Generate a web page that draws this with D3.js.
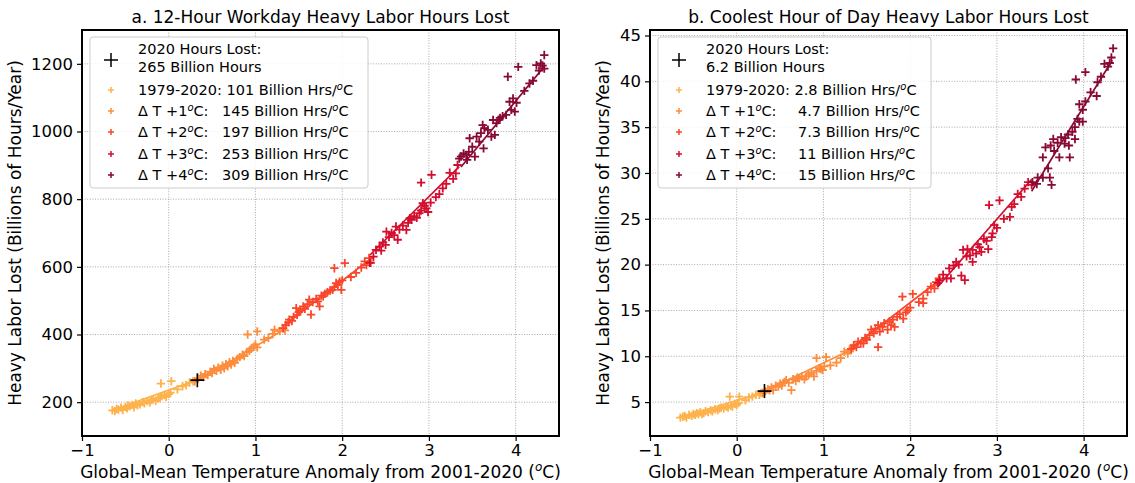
<!DOCTYPE html>
<html><head><meta charset="utf-8">
<script src="https://cdn.jsdelivr.net/npm/d3@7"></script>
<style>
body{margin:0;background:#fff;}
text{font-family:"DejaVu Sans",sans-serif;fill:#000;}
</style></head>
<body><svg id="c" width="1135" height="483"></svg>
<script>
// ---------- DATA ----------
const groupNames = ["1979-2020","+1","+2","+3","+4"];
const groupColors = ["#feb24c","#fd8d3c","#f9472b","#d20f2f","#880a34"];
const xTicks = [-1,0,1,2,3,4];
const yTicksA = [200,400,600,800,1000,1200];
const yTicksB = [5,10,15,20,25,30,35,40,45];

// Panel a (Billion hours)
const aHist = [[-0.65,176],[-0.62,174],[-0.60,180],[-0.58,178],[-0.55,184],[-0.53,177],[-0.50,186],[-0.48,182],[-0.47,190],[-0.45,188],[-0.42,192],[-0.40,185],[-0.38,196],[-0.36,191],[-0.33,194],[-0.30,200],[-0.28,197],[-0.25,203],[-0.22,199],[-0.20,206],[-0.18,209],[-0.15,204],[-0.12,211],[-0.10,214],[-0.08,218],[-0.05,221],[-0.03,216],[0.00,224],[0.02,228],[-0.09,255],[0.03,262],[0.10,238],[0.16,247],[0.20,250],[0.24,258],[0.28,262]];
const aP1 = [[0.30,262],[0.34,270],[0.37,278],[0.40,274],[0.42,283],[0.45,280],[0.48,290],[0.50,286],[0.52,298],[0.55,293],[0.57,302],[0.60,296],[0.62,308],[0.64,300],[0.66,312],[0.68,306],[0.70,318],[0.72,311],[0.74,322],[0.76,316],[0.79,328],[0.82,333],[0.85,340],[0.87,336],[0.90,348],[0.93,352],[0.95,358],[0.98,364],[1.00,370],[1.02,362],[0.91,400],[1.02,409],[1.10,385],[1.15,390],[1.20,402],[1.22,414],[1.28,410],[1.31,419],[1.34,412]];
const aP2 = [[1.32,418],[1.35,428],[1.38,436],[1.39,444],[1.42,440],[1.44,452],[1.47,478],[1.48,458],[1.50,466],[1.52,472],[1.55,483],[1.57,476],[1.60,490],[1.62,503],[1.64,459],[1.66,496],[1.70,505],[1.72,498],[1.74,483],[1.76,515],[1.78,513],[1.80,520],[1.83,525],[1.86,530],[1.89,532],[1.91,540],[1.93,552],[1.95,547],[1.97,556],[1.99,532],[2.00,560],[1.91,596],[2.03,611],[2.10,570],[2.16,582],[2.22,598],[2.26,616],[2.28,605],[2.31,626],[2.33,612]];
const aP3 = [[2.32,612],[2.36,630],[2.39,650],[2.43,660],[2.45,648],[2.47,672],[2.50,665],[2.51,704],[2.54,688],[2.57,700],[2.60,694],[2.62,719],[2.64,680],[2.66,710],[2.70,722],[2.74,709],[2.76,730],[2.78,744],[2.80,739],[2.83,750],[2.86,745],[2.89,759],[2.91,766],[2.93,788],[2.95,780],[2.97,773],[2.99,762],[3.02,790],[3.08,806],[3.12,815],[3.16,832],[2.91,849],[3.03,872],[3.20,845],[3.24,878],[3.28,860],[3.31,876],[3.33,901]];
const aP4 = [[3.35,920],[3.37,926],[3.40,935],[3.43,931],[3.44,916],[3.46,940],[3.50,955],[3.53,926],[3.55,985],[3.47,980],[3.58,970],[3.60,995],[3.62,1019],[3.63,950],[3.64,1010],[3.68,1005],[3.72,985],[3.74,1034],[3.76,990],[3.78,1025],[3.80,1034],[3.82,1040],[3.85,1045],[3.89,1049],[3.91,1162],[3.93,1088],[3.95,1064],[3.97,1098],[3.99,1059],[4.01,1085],[4.03,1191],[4.10,1120],[4.16,1142],[4.20,1150],[4.24,1196],[4.27,1180],[4.29,1201],[4.31,1195],[4.33,1226],[4.33,1186]];
// fit lines: [xStart, yStart, xEnd, yEnd] per group
const aFits = [[-0.65,176,0.33,266],[0.30,258,1.35,418],[1.32,425,2.35,628],[2.32,635,3.35,896],[3.37,895,4.33,1192]];
const a2020 = [0.33,265];
const aRates = ["101","145","197","253","309"];

// Panel b
const bHist = [[-0.65,3.3],[-0.62,3.4],[-0.60,3.5],[-0.58,3.3],[-0.55,3.6],[-0.52,3.5],[-0.50,3.7],[-0.48,3.6],[-0.46,3.8],[-0.44,3.7],[-0.42,3.9],[-0.40,3.7],[-0.38,3.8],[-0.36,4.0],[-0.33,3.9],[-0.30,4.1],[-0.28,4.0],[-0.25,4.2],[-0.22,4.1],[-0.20,4.3],[-0.18,4.4],[-0.15,4.3],[-0.12,4.5],[-0.10,4.4],[-0.07,4.6],[-0.05,4.5],[-0.02,4.8],[0.00,4.7],[0.02,4.9],[-0.08,5.6],[0.03,5.6],[0.10,5.2],[0.14,5.5],[0.18,5.6],[0.22,5.8],[0.26,5.8],[0.28,6.0]];
const bP1 = [[0.30,6.0],[0.33,6.2],[0.36,6.4],[0.38,6.3],[0.40,6.6],[0.42,6.3],[0.45,6.8],[0.48,6.7],[0.50,7.0],[0.52,6.8],[0.55,7.2],[0.57,7.4],[0.60,7.1],[0.63,6.3],[0.65,7.5],[0.68,7.3],[0.70,7.7],[0.72,7.6],[0.75,7.8],[0.78,7.5],[0.80,7.8],[0.83,8.0],[0.86,8.2],[0.89,7.8],[0.92,8.4],[0.95,8.7],[0.97,8.6],[0.99,8.5],[1.01,8.9],[0.92,9.8],[1.03,9.9],[1.08,9.0],[1.15,9.3],[1.20,9.8],[1.24,10.5],[1.28,10.3],[1.30,10.7],[1.34,10.9]];
const bP2 = [[1.32,10.8],[1.35,11.2],[1.38,11.0],[1.40,11.6],[1.43,11.4],[1.46,11.4],[1.48,12.0],[1.50,11.8],[1.53,12.3],[1.55,12.9],[1.58,12.5],[1.60,13.0],[1.63,13.4],[1.63,11.0],[1.65,12.7],[1.68,13.2],[1.70,13.6],[1.74,12.9],[1.76,13.8],[1.78,13.4],[1.80,14.0],[1.82,13.2],[1.85,14.3],[1.88,14.6],[1.92,14.1],[1.95,14.8],[1.97,15.0],[2.00,15.3],[1.91,16.5],[2.03,16.8],[2.10,15.9],[2.15,16.3],[2.15,15.8],[2.20,17.0],[2.24,17.6],[2.28,17.4],[2.30,18.1],[2.33,18.5]];
const bP3 = [[2.32,18.0],[2.34,18.3],[2.38,18.9],[2.42,18.5],[2.45,19.6],[2.47,18.5],[2.50,19.9],[2.53,20.3],[2.56,20.0],[2.59,18.8],[2.61,21.6],[2.63,18.3],[2.65,20.9],[2.66,21.7],[2.69,21.0],[2.72,20.3],[2.72,21.6],[2.76,21.2],[2.78,22.2],[2.80,21.9],[2.82,21.4],[2.85,22.8],[2.88,22.6],[2.90,21.7],[2.94,23.0],[2.95,23.4],[2.97,24.3],[3.00,24.0],[2.91,26.5],[3.03,27.0],[3.08,25.0],[3.15,25.2],[3.17,26.3],[3.20,26.6],[3.24,27.7],[3.28,27.4],[3.32,28.3],[3.36,29.0],[3.40,28.7]];
const bP4 = [[3.41,29.0],[3.46,28.8],[3.47,29.5],[3.53,29.5],[3.53,31.7],[3.56,32.8],[3.59,30.5],[3.61,29.5],[3.62,33.0],[3.63,28.7],[3.65,33.7],[3.66,32.4],[3.70,33.3],[3.72,31.7],[3.74,33.9],[3.78,33.2],[3.79,33.8],[3.82,34.2],[3.83,33.0],[3.84,31.7],[3.87,34.5],[3.90,33.7],[3.90,35.0],[3.93,35.9],[3.95,35.6],[3.95,37.5],[3.99,35.6],[3.99,36.9],[4.02,37.8],[3.91,40.2],[4.02,41.0],[4.08,38.8],[4.15,38.4],[4.16,39.9],[4.20,40.5],[4.24,41.9],[4.28,41.6],[4.30,42.0],[4.32,42.6],[4.34,43.6]];
const bFits = [[-0.65,3.3,0.32,6.1],[0.30,6.1,1.36,10.9],[1.32,10.9,2.35,18.4],[2.32,17.6,3.40,29.3],[3.40,28.0,4.33,42.3]];
const b2020 = [0.32,6.2];
const bRates = ["2.8","4.7","7.3","11","15"];

// ---------- DRAW ----------
const svg = d3.select("#c");

function sup(t,size){
  t.append("tspan").attr("baseline-shift","super").style("font-size",size).style("font-style","italic").text("o");
}

function drawPanel(o){
  const g = svg.append("g");
  const x = d3.scaleLinear().domain([-1,4.5]).range([o.left,o.right]);
  const y = d3.scaleLinear().domain(o.ydom).range([o.bottom,o.top]);
  // grid
  g.append("g").selectAll("line").data(xTicks.slice(1)).join("line")
    .attr("x1",d=>x(d)).attr("x2",d=>x(d)).attr("y1",o.top).attr("y2",o.bottom)
    .attr("stroke","#a8a8a8").attr("stroke-width",1).attr("stroke-dasharray","1,1.6");
  g.append("g").selectAll("line").data(o.yticks).join("line")
    .attr("x1",o.left).attr("x2",o.right).attr("y1",d=>y(d)).attr("y2",d=>y(d))
    .attr("stroke","#a8a8a8").attr("stroke-width",1).attr("stroke-dasharray","1,1.6");
  // axes
  const xa = g.append("g").attr("transform",`translate(0,${o.bottom})`)
    .call(d3.axisBottom(x).tickValues(xTicks).tickSize(5).tickPadding(3).tickFormat(d=>d<0?"\u2212"+Math.abs(d):d));
  const ya = g.append("g").attr("transform",`translate(${o.left},0)`)
    .call(d3.axisLeft(y).tickValues(o.yticks).tickSize(5).tickPadding(4).tickFormat(d3.format("d")));
  [xa,ya].forEach(a=>{a.select(".domain").remove();a.selectAll("text").style("font-size","16.5px").style("font-family","DejaVu Sans");a.selectAll("line").attr("stroke","#000").attr("stroke-width",1.2);});
  // fits
  o.fits.forEach((f,i)=>{
    g.append("line").attr("x1",x(f[0])).attr("y1",y(f[1])).attr("x2",x(f[2])).attr("y2",y(f[3]))
      .attr("stroke",groupColors[i]).attr("stroke-width",1.7);
  });
  // points
  const plus = (sel,s)=>sel.attr("d",`M${-s},0H${s}M0,${-s}V${s}`);
  o.groups.forEach((pts,i)=>{
    g.append("g").selectAll("path").data(pts).join("path")
      .attr("transform",d=>`translate(${x(d[0])},${y(d[1])})`)
      .call(plus,4.2).attr("stroke",groupColors[i]).attr("stroke-width",1.8).attr("fill","none");
  });
  g.append("path").attr("transform",`translate(${x(o.p2020[0])},${y(o.p2020[1])})`)
    .call(plus,7).attr("stroke","#000").attr("stroke-width",1.6);
  // frame
  g.append("rect").attr("x",o.left).attr("y",o.top).attr("width",o.right-o.left).attr("height",o.bottom-o.top)
    .attr("fill","none").attr("stroke","#000").attr("stroke-width",2);
  // title
  g.append("text").attr("x",(o.left+o.right)/2).attr("y",o.top-7).attr("text-anchor","middle")
    .style("font-size","17px").text(o.title);
  // x label
  const xl = g.append("text").attr("x",(o.left+o.right)/2).attr("y",478).attr("text-anchor","middle").style("font-size","17px");
  xl.append("tspan").text("Global-Mean Temperature Anomaly from 2001-2020 (");
  sup(xl,"12px");
  xl.append("tspan").text("C)");
  // y label
  g.append("text").attr("transform",`translate(${o.left-o.ylabOff},${(o.top+o.bottom)/2}) rotate(-90)`)
    .attr("text-anchor","middle").style("font-size","17px").text("Heavy Labor Lost (Billions of Hours/Year)");
  // legend
  const lx = o.left+8, ly = 37;
  g.append("rect").attr("x",lx).attr("y",ly).attr("width",o.legW).attr("height",151).attr("rx",3)
    .attr("fill","#fff").attr("fill-opacity",0.85).attr("stroke","#cccccc").attr("stroke-width",1);
  g.append("path").attr("transform",`translate(${lx+21},${ly+23})`).call(plus,7).attr("stroke","#000").attr("stroke-width",1.5);
  g.append("text").attr("x",lx+48).attr("y",ly+17).style("font-size","14.5px").text("2020 Hours Lost:");
  g.append("text").attr("x",lx+48).attr("y",ly+35).style("font-size","14.5px").text(o.total);
  const rows = [ly+53, ly+74, ly+95, ly+117, ly+138];
  groupNames.forEach((nm,i)=>{
    g.append("path").attr("transform",`translate(${lx+21},${rows[i]})`).call(plus,3)
      .attr("stroke",groupColors[i]).attr("stroke-width",1.5);
    const t = g.append("text").attr("x",lx+48).attr("y",rows[i]+5).style("font-size","14.5px");
    if(i===0){
      t.append("tspan").text("1979-2020: "+o.rates[i]+" Billion Hrs/");
    } else {
      t.append("tspan").text("\u0394 T +"+i);
      sup(t,"10px");
      t.append("tspan").text("C:");
      t.append("tspan").attr("x",lx+48+o.numOff).text(o.rates[i]+" Billion Hrs/");
    }
    sup(t,"10px");
    t.append("tspan").text("C");
  });
}

drawPanel({left:82,right:559,top:30,bottom:436,ydom:[100,1300],yticks:yTicksA,
  groups:[aHist,aP1,aP2,aP3,aP4],fits:aFits,p2020:a2020,rates:aRates,ylabOff:61,
  title:"a. 12-Hour Workday Heavy Labor Hours Lost",total:"265 Billion Hours",legW:278,numOff:84});
drawPanel({left:650,right:1127,top:30,bottom:436,ydom:[1.3,45.6],yticks:yTicksB,
  groups:[bHist,bP1,bP2,bP3,bP4],fits:bFits,p2020:b2020,rates:bRates,ylabOff:41,
  title:"b. Coolest Hour of Day Heavy Labor Hours Lost",total:"6.2 Billion Hours",legW:273,numOff:92});
</script></body></html>
